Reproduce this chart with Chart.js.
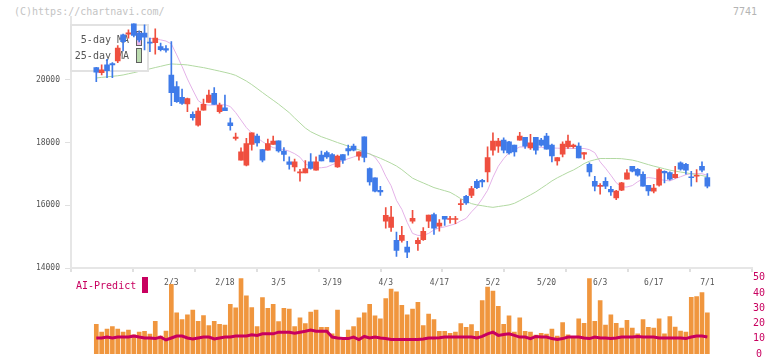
<!DOCTYPE html>
<html><head><meta charset="utf-8">
<script src="https://cdn.jsdelivr.net/npm/chart.js@4.4.1/dist/chart.umd.min.js"></script>
<style>
html,body{margin:0;padding:0;background:#fff;width:772px;height:361px;overflow:hidden;position:relative;font-family:'DejaVu Sans Mono',monospace;}
#c1{position:absolute;left:0;top:0;width:772px;height:300px;}
#c2{position:absolute;left:0;top:268px;width:772px;height:93px;}
.t{position:absolute;font-size:10px;line-height:12px;}
</style></head><body>
<div class="t" style="left:14px;top:6px;color:#c4c4c4">(C)https://chartnavi.com/</div>
<div class="t" style="left:733px;top:6px;color:#b4b4b4">7741</div>
<canvas id="c1" width="772" height="300"></canvas>
<canvas id="c2" width="772" height="93"></canvas>
<script>
const tickIndex = [14,24,34,44,54,64,74,84,94,104,114];
const tickLabels = ['2/3','2/18','3/5','3/19','4/3','4/17','5/2','5/20','6/3','6/17','7/1'];
const priceTicks = [14000,16000,18000,20000];
const volTicks = [0,10,20,30,40,50];

const open = [20394,20234,20480,20522,20608,21440,21462,21792,21494,21494,
21206,21194,21066,21002,20160,19786,19446,19232,18902,18560,
19040,19286,19574,18986,19114,18634,18134,17440,17280,17942,
18208,17782,17760,17942,18058,17728,17386,17226,17034,17034,
17386,17120,17600,17686,17622,17226,17622,17814,17888,17568,
18186,17174,16874,16480,15498,15296,14880,14880,14666,15498,
14774,14902,15498,15702,15338,15648,15548,15548,16022,16288,
16320,16768,16800,17066,17760,17888,18080,18026,17920,18080,
18166,17834,18166,18080,18208,17920,17418,17632,17866,17872,
17888,17632,17312,16768,16604,16768,16512,16234,16480,16832,
17248,17152,16992,16640,16448,16640,17088,17046,16886,17354,
17312,16892,16928,17248,16886];
const high = [20400,20480,20662,20554,21098,21462,21600,21792,21568,21760,
21334,21632,21174,21098,21226,19946,19712,19420,18986,19114,
19392,19680,19754,19264,19520,18784,18304,17834,18134,18314,
18272,17782,18112,18208,18058,17840,17546,17472,17146,17430,
17654,17546,17728,17728,17648,17600,17622,17920,17952,17706,
18186,17194,16874,16608,15926,15968,15146,15328,14848,15840,
14966,15286,15690,15754,15542,15648,15648,15648,16182,16320,
16608,16822,16832,17866,18314,18134,18154,18040,17920,18326,
18166,18262,18166,18134,18294,17952,17526,18026,18240,17952,
17994,17686,17354,16928,16694,16886,16608,16480,16730,17142,
17248,17174,17066,16640,16672,17174,17100,17066,17248,17386,
17340,17088,17142,17386,17014];
const low = [19946,20160,20074,20074,20554,20928,21334,21376,21216,20960,
20906,20822,20928,20886,19178,19286,19222,18986,18720,18528,
19040,19286,19222,18944,19018,18400,18080,17440,17258,17760,
17888,17386,17760,17942,17700,17418,17152,17088,16774,17034,
17152,17120,17418,17494,17386,17206,17334,17600,17738,17440,
17386,16640,16426,16320,15274,15168,14368,14826,14326,15434,
14560,14880,15286,15072,15178,15360,15434,15414,15840,16032,
16246,16534,16586,16746,17600,17686,17674,17632,17568,18080,
17814,17782,17632,17888,17792,17386,17280,17546,17814,17824,
17514,17472,16928,16458,16352,16534,16320,16182,16470,16832,
17066,16928,16608,16320,16394,16608,16714,16800,16870,17120,
16992,16608,16746,17066,16554];
const close = [20246,20320,20298,20480,21014,21226,21504,21418,21280,21366,
21174,21334,20970,20950,19594,19306,19254,19408,18794,19008,
19222,19520,19222,19200,19018,18538,18176,17706,17974,18314,
17994,17440,17974,18048,17738,17622,17306,17386,17040,17174,
17174,17386,17418,17546,17386,17568,17440,17738,17760,17706,
17526,16746,16448,16426,15680,15626,14560,15040,14506,15584,
14880,15168,15690,15274,15434,15562,15552,15556,16026,16074,
16534,16566,16746,17526,18048,18048,17760,17674,17706,18208,
17888,17994,17760,17920,17792,17578,17526,17952,18048,17920,
17514,17686,17066,16608,16610,16608,16426,16458,16714,17034,
17088,16960,16608,16458,16554,17142,17034,16832,16992,17152,
17120,16880,16936,17120,16608];
const ma5 = [20224,20256,20288,20416,20576,20736,20896,21056,21184,21296,
21331,21312,21280,21242,21152,20800,20432,20032,19680,19344,
19216,19200,19200,19200,19210,19152,18960,18720,18480,18304,
18160,18032,17926,17840,17808,17776,17728,17648,17536,17328,
17232,17190,17200,17222,17296,17360,17424,17488,17542,17610,
17648,17654,17536,17296,16928,16624,16160,15872,15456,15104,
15040,15040,15104,15216,15280,15312,15360,15408,15504,15584,
15792,15968,16208,16480,16896,17248,17488,17680,17776,17862,
17866,17866,17859,17850,17840,17830,17824,17818,17814,17814,
17814,17814,17776,17680,17386,17184,16960,16720,16586,16586,
16630,16752,16848,16886,16864,16826,16800,16778,16848,16912,
16976,17014,17014,17008,16960];
const ma25 = [20064,20083,20099,20118,20134,20160,20198,20234,20275,20314,
20355,20397,20435,20477,20512,20502,20493,20480,20451,20422,
20394,20358,20320,20282,20243,20202,20147,20058,19965,19853,
19728,19600,19475,19354,19229,19094,18957,18787,18627,18467,
18349,18266,18189,18128,18067,18003,17946,17888,17827,17770,
17702,17635,17571,17501,17424,17344,17254,17139,17002,16867,
16787,16714,16640,16566,16515,16467,16416,16320,16211,16131,
16054,16013,15987,15958,15936,15962,15987,16013,16064,16150,
16243,16333,16429,16544,16659,16778,16877,16963,17050,17126,
17222,17331,17408,17453,17494,17494,17494,17494,17488,17466,
17443,17402,17350,17299,17251,17210,17165,17123,17091,17062,
17037,17008,16979,16950,16912];
const volume = [19.5,14.3,16.4,18,16.4,14.3,15.7,12.6,14.3,14.9,
13,21.4,11.8,15.1,45.7,26.9,22.5,25.6,28.7,21.4,
25.2,18.7,21.4,19.5,18.9,32.5,30.2,49.5,38.2,30.5,
18,36.9,30,32.5,21.2,30,29.4,18,23.7,19.9,
27.5,28.7,17.4,17.4,13.2,28.7,9,15.7,18,23.7,
26.9,32.5,25,23.1,36.3,42.6,40.7,31.9,25.6,29.4,
33.8,18.7,26.2,22.5,14.9,14.9,13.6,14.3,19.9,17.4,
19.3,14.9,35,43.8,41.3,31.3,19.4,25,14.3,23.7,
14.9,14.3,12.4,13.6,13,16.4,11.8,20.6,12.6,11,
23.1,20.1,49.5,21.4,35,18.9,25.6,20.1,17,22,
17,13.2,22.6,17.4,17,23.1,13.2,24.5,17.6,15.1,
14.3,37.1,37.7,40.3,27];
const aiPredict = [10.5,10.5,11.1,10.5,11.1,11.1,11.1,11.8,11.1,10.5,
10.5,10.1,11.1,9.2,10.5,11.8,11.8,10.5,9.9,10.5,
11.1,11.1,9.9,10.5,11.1,11.1,11.8,11.8,11.8,12.6,
12.2,13.2,13.2,13.2,14.3,14.3,14.3,13.6,14.3,14.9,
15.7,14.9,14.9,14.9,11.1,10.5,10.1,10.1,11.1,9.5,
11.5,10.5,11.1,10.5,10.1,9.5,9.5,9.5,9.5,9.5,
9.5,9.9,10.5,10.5,10.7,11.1,11.1,11.1,11.1,11.1,
11.1,10.5,11.5,13.2,14.3,12.2,12.8,13.2,12.2,11.1,
11.1,10.1,11.5,11.1,11.1,10.1,9.5,10.1,11.1,11.1,
11.1,10.5,10.1,11.1,10.5,10.5,10.1,10.5,11.1,11.1,
11.1,11.5,11.1,11.1,11.1,10.5,10.5,10.5,10.5,10.5,
10.1,11.1,11.8,11.8,11.1];

const FAM = "'DejaVu Sans Mono', monospace";
const UP = '#ef4f3f', DOWN = '#3f7be9';
const X_MIN = -4.72, X_MAX = 122.33;
const idx = open.map((_, i) => i);
const candleColors = idx.map(i => close[i] >= open[i] ? UP : DOWN);

const maBoxPlugin = {
  id: 'maBox',
  beforeDatasetDraw(chart, args) {
    if (args.index !== 2) return;
    const ctx = chart.ctx;
    const ds = chart.data.datasets;
    ctx.save();
    ctx.fillStyle = '#ffffff';
    ctx.fillRect(71, 25, 77, 46);
    ctx.strokeStyle = '#e2e2e2';
    ctx.lineWidth = 2;
    ctx.strokeRect(71, 25, 77, 46);
    ctx.font = '10px ' + FAM;
    ctx.fillStyle = '#555';
    ctx.textAlign = 'right';
    ctx.textBaseline = 'middle';
    ctx.fillText(ds[0].label, 129, 40);
    ctx.fillText(ds[1].label, 129, 56);
    ctx.lineWidth = 1;
    ctx.strokeStyle = '#606060';
    ctx.fillStyle = ds[0].swatch;
    ctx.fillRect(137, 31, 5, 15); ctx.strokeRect(136.5, 31.5, 5, 14);
    ctx.fillStyle = ds[1].swatch;
    ctx.fillRect(137, 48, 5, 15); ctx.strokeRect(136.5, 48.5, 5, 14);
    ctx.restore();
  }
};

new Chart(document.getElementById('c1'), {
  type: 'bar',
  data: {
    datasets: [
      { type: 'line', label: '5-day MA', swatch: '#e9b8ec', data: idx.map(i => ({x: i, y: ma5[i]})),
        borderColor: '#e4b2e8', borderWidth: 1, pointRadius: 0, tension: 0, order: 10 },
      { type: 'line', label: '25-day MA', swatch: '#bcdcb0', data: idx.map(i => ({x: i, y: ma25[i]})),
        borderColor: '#b2d9a2', borderWidth: 1, pointRadius: 0, tension: 0, order: 9 },
      { type: 'bar', label: 'wick', data: idx.map(i => ({x: i, y: [low[i], high[i]]})),
        backgroundColor: candleColors, barThickness: 1, grouped: false, order: 2 },
      { type: 'bar', label: 'body', data: idx.map(i => ({x: i, y: [open[i], close[i]]})),
        backgroundColor: candleColors, barThickness: 5, minBarLength: 1, grouped: false, order: 1 }
    ]
  },
  options: {
    responsive: false, animation: false, devicePixelRatio: 1,
    layout: { padding: { left: 0, right: 20, top: 17.3, bottom: 0 } },
    plugins: { legend: { display: false }, tooltip: { enabled: false } },
    scales: {
      x: {
        type: 'linear', min: X_MIN, max: X_MAX, position: 'bottom', weight: 0, offset: false,
        afterBuildTicks(s) { const t = []; for (let k = 0; k <= 11; k++) t.push({value: X_MIN + (X_MAX - X_MIN) * k / 11}); s.ticks = t; },
        ticks: { display: false },
        grid: { offset: false, drawOnChartArea: false, drawTicks: true, tickLength: 4, color: '#e0e0e0', lineWidth: 2 },
        border: { display: true, color: '#e6e6e6', width: 2 },
        afterFit(s) { s.height = 5; }
      },
      x2: {
        type: 'linear', min: X_MIN, max: X_MAX, position: 'bottom', weight: 1, offset: false,
        afterBuildTicks(s) { s.ticks = tickIndex.map(v => ({value: v})); },
        ticks: { callback: (v, i) => tickLabels[i], font: { family: FAM, size: 8 }, color: '#555', padding: 5, maxRotation: 0, autoSkip: false },
        grid: { offset: false, display: false, drawTicks: false },
        border: { display: false },
        afterFit(s) { s.height = 27; }
      },
      y: {
        min: 14000, max: 22000, position: 'left',
        afterBuildTicks(s) { s.ticks = priceTicks.map(v => ({value: v})); },
        ticks: { callback: v => String(v), font: { family: FAM, size: 8 }, color: '#555', padding: 5, autoSkip: false },
        grid: { drawOnChartArea: false, tickLength: 6, color: '#e0e0e0', lineWidth: 1 },
        border: { color: '#e6e6e6', width: 2 },
        afterFit(s) { s.width = 71; }
      }
    }
  },
  plugins: [maBoxPlugin]
});

const aiLabelPlugin = {
  id: 'aiLabel',
  afterDraw(chart) {
    const ctx = chart.ctx;
    const ds = chart.data.datasets[0];
    ctx.save();
    ctx.font = '10px ' + FAM;
    ctx.fillStyle = ds.borderColor;
    ctx.textAlign = 'left';
    ctx.textBaseline = 'middle';
    ctx.fillText(ds.label, 76, 18);
    ctx.fillRect(142, 9, 6, 16);
    ctx.restore();
  }
};

new Chart(document.getElementById('c2'), {
  type: 'bar',
  data: {
    datasets: [
      { type: 'line', label: 'AI-Predict', data: idx.map(i => ({x: i, y: aiPredict[i]})),
        borderColor: '#c8005f', borderWidth: 3, pointRadius: 0, tension: 0, order: 0 },
      { type: 'bar', label: 'Volume', data: idx.map(i => ({x: i, y: volume[i]})),
        backgroundColor: '#f0963e', barThickness: 4, grouped: false, order: 1 }
    ]
  },
  options: {
    responsive: false, animation: false, devicePixelRatio: 1,
    layout: { padding: { left: 71, right: 0, top: 9.7, bottom: 3.3 } },
    plugins: { legend: { display: false }, tooltip: { enabled: false } },
    scales: {
      x: { type: 'linear', min: X_MIN, max: X_MAX, display: false, offset: false, grid: { offset: false } },
      y: {
        min: 0, max: 50, position: 'right',
        afterBuildTicks(s) { s.ticks = volTicks.map(v => ({value: v})); },
        ticks: { font: { family: FAM, size: 10 }, color: '#c8005f', padding: 1, crossAlign: 'center', autoSkip: false },
        grid: { display: false, drawTicks: false },
        border: { display: false },
        afterFit(s) { s.width = 20; }
      }
    }
  },
  plugins: [aiLabelPlugin]
});
</script>
</body></html>
